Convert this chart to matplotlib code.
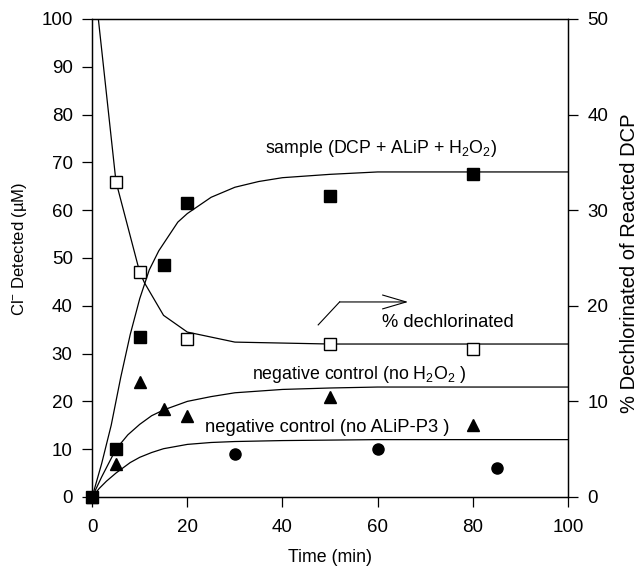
import matplotlib
matplotlib.use("Agg")
import matplotlib.pyplot as plt

plt.rcParams["font.family"] = ["Liberation Sans", "DejaVu Sans"]
plt.rcParams["mathtext.fontset"] = "custom"
plt.rcParams["mathtext.rm"] = "Liberation Sans"
plt.rcParams["mathtext.it"] = "Liberation Sans:italic"

# measured points (left axis, uM)
t_sample = [0, 5, 10, 15, 20, 50, 80]
cl_sample = [0, 10, 33.5, 48.5, 61.5, 63, 67.5]

t_noh2o2 = [0, 5, 10, 15, 20, 50, 80]
cl_noh2o2 = [0, 7, 24, 18.5, 17, 21, 15]

t_noalip = [0, 30, 60, 85]
cl_noalip = [0, 9, 10, 6]

# % dechlorinated (right axis)
t_pct = [5, 10, 20, 50, 80]
pct = [33, 23.5, 16.5, 16, 15.5]

# fitted curves
fit_t_sample = [0, 2, 4, 6, 8, 10, 12, 14, 16, 18, 20, 25, 30, 35, 40, 50, 60, 80, 100]
fit_sample = [0, 7, 15, 25, 34, 41.5, 47.5, 51.5, 54.5, 57.5, 59.3, 62.7, 64.8, 66, 66.8, 67.5, 68, 68, 68]

fit_t_noh2o2 = [0, 2, 5, 7.5, 10, 12.5, 15, 20, 25, 30, 40, 50, 60, 80, 100]
fit_noh2o2 = [0, 4.2, 10, 13, 15.2, 17, 18.2, 20, 21, 21.8, 22.5, 22.8, 23, 23, 23]

fit_t_noalip = [0, 1.5, 3, 5, 8, 10, 12.5, 15, 20, 25, 30, 40, 60, 80, 100]
fit_noalip = [0, 1.8, 3.3, 5, 7.2, 8.3, 9.3, 10.1, 11, 11.4, 11.6, 11.8, 12, 12, 12]

fit_t_pct = [1.3, 5, 10, 11, 15, 20, 30, 50, 100]
fit_pct = [50, 33, 23.5, 22.4, 19, 17.25, 16.2, 16, 16]

fig = plt.figure(figsize=(6.4, 5.67), dpi=100)
ax = fig.add_axes([0.144, 0.1235, 0.7435, 0.843])
ax2 = ax.twinx()

lw = 0.9
ax.plot(fit_t_sample, fit_sample, color="black", lw=lw)
ax.plot(fit_t_noh2o2, fit_noh2o2, color="black", lw=lw)
ax.plot(fit_t_noalip, fit_noalip, color="black", lw=lw)
ax2.plot(fit_t_pct, fit_pct, color="black", lw=lw)

ax.plot(t_noalip, cl_noalip, "o", color="black", ms=8, clip_on=False, zorder=5)
ax.plot(t_noh2o2, cl_noh2o2, "^", color="black", ms=8.5, clip_on=False, zorder=5)
ax.plot(t_sample, cl_sample, "s", color="black", ms=8, clip_on=False, zorder=5)
ax2.plot(t_pct, pct, "s", mfc="white", mec="black", mew=1.0, ms=8, zorder=5)

ax.set_xlim(0, 100)
ax.set_ylim(0, 100)
ax2.set_ylim(0, 50)
ax.set_xticks(range(0, 101, 20))
ax.set_yticks(range(0, 101, 10))
ax2.set_yticks(range(0, 51, 10))

tfs = 13.5
fs = 12.8
for a in (ax, ax2):
    a.tick_params(direction="out", length=7, width=0.9, labelsize=tfs, pad=7)
    for s in a.spines.values():
        s.set_linewidth(0.9)
ax.tick_params(axis="x", pad=9)

ax.set_xlabel("Time (min)", fontsize=fs)
ax.xaxis.set_label_coords(0.5, -0.108)
ax.set_ylabel("Cl$^{-}$ Detected (µM)", fontsize=12)
ax.yaxis.set_label_coords(-0.132, 0.52)
ax2.set_ylabel("% Dechlorinated of Reacted DCP", fontsize=14.5)
ax2.yaxis.set_label_coords(1.11, 0.49)

ax.text(36.3, 73, "sample (DCP + ALiP + H$_2$O$_2$)", fontsize=fs, va="center")
ax.text(33.6, 25.7, "negative control (no H$_2$O$_2$ )", fontsize=fs, va="center")
ax.text(23.7, 14.6, "negative control (no ALiP-P3 )", fontsize=13.2, va="center")
ax.text(61, 36.4, "% dechlorinated", fontsize=13.2, va="center")

ax.plot([47.5, 52], [36, 40.8], color="black", lw=0.8)
ax.annotate("", xy=(66.4, 40.8), xytext=(52, 40.8),
            arrowprops=dict(arrowstyle="->,head_length=1.7,head_width=0.5",
                            lw=0.8, color="black", shrinkA=0, shrinkB=0))

fig.savefig("out.png", dpi=100)
